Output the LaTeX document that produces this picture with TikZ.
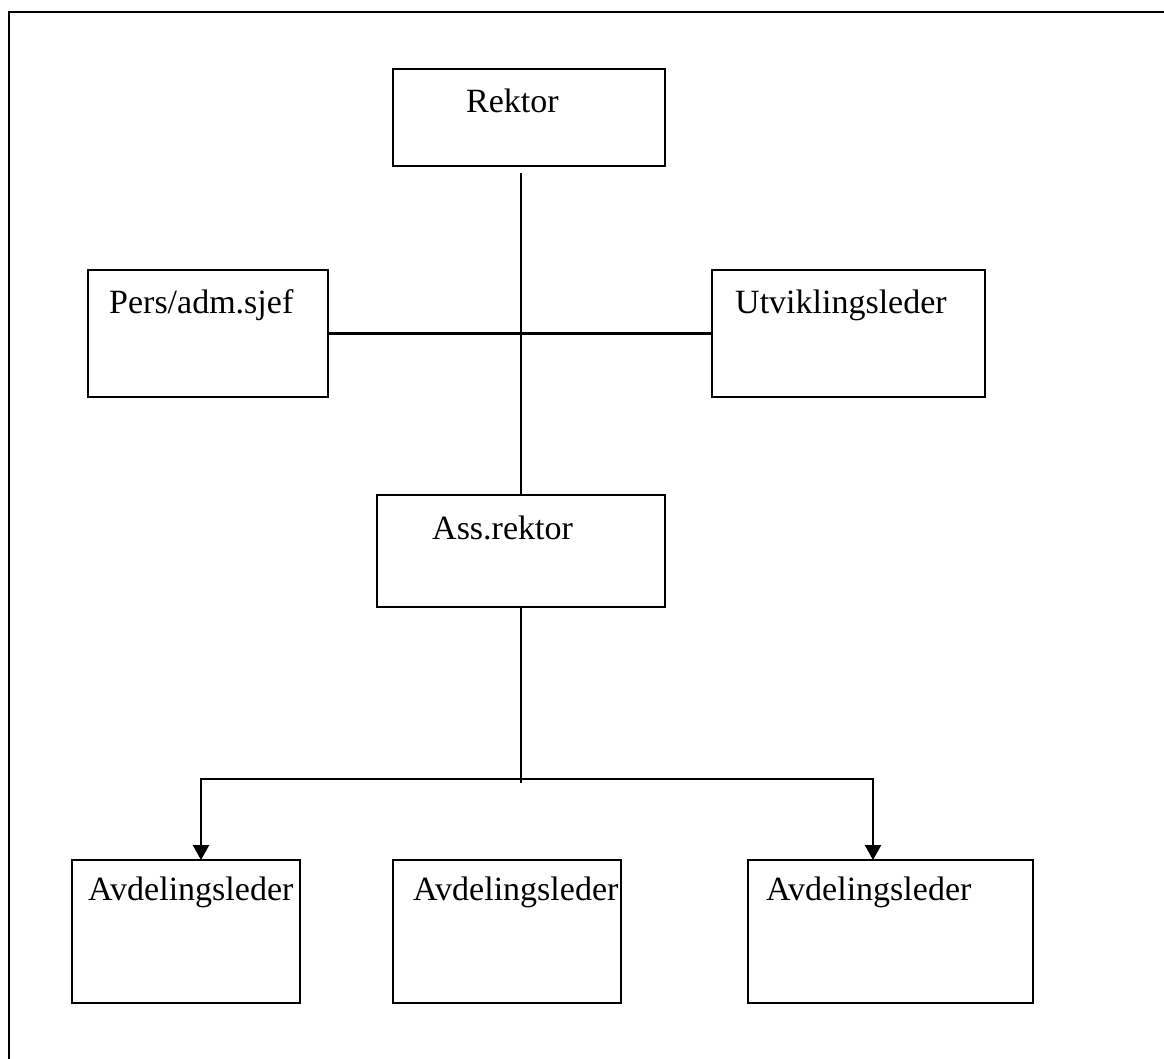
\documentclass[tikz,border=0pt]{standalone}
\usepackage{fontspec}
\setmainfont{Liberation Serif}
\usetikzlibrary{arrows.meta}

\tikzset{
	box/.style={draw, rectangle, line width=2.4pt, inner sep=0pt, outer sep=0pt, anchor=north west},
	lbl/.style={anchor=base west, inner sep=0pt, font=\fontsize{34}{40}\selectfont},
	tip/.style={{Triangle[width=16pt,length=15pt]}-{Triangle[width=16pt,length=15pt]}}
}

\begin{document}
\begin{tikzpicture}[x=1pt, y=-1pt, line width=2.4pt]
		\useasboundingbox (0,0) rectangle (1164,1059);
		\draw (9,1059) -- (9,12) -- (1164,12);

		\node (rektor)[box, minimum width=272pt, minimum height=97pt] at (393,69) {};
		\node (pers)[box, minimum width=240pt, minimum height=127pt] at (88,270) {};
		\node (utvikling)[box, minimum width=273pt, minimum height=127pt] at (712,270) {};
		\node (ass)[box, minimum width=288pt, minimum height=112pt] at (377,495) {};

		\node (avd1)[box, minimum width=228pt, minimum height=143pt] at (72,860) {};
		\node (avd2)[box, minimum width=228pt, minimum height=143pt] at (393,860) {};
		\node (avd3)[box, minimum width=285pt, minimum height=143pt] at (748,860) {};

		\node (rektorT)[lbl] at (465,113) {Rektor};
		\node (persT)[lbl] at (108,313) {Pers/adm.sjef};
		\node (utviklingT)[lbl] at (734,313) {Utviklingsleder};
		\node (assT)[lbl] at (431,539) {Ass.rektor};
		\node (avd1T)[lbl] at (87,900) {Avdelingsleder};
		\node (avd2T)[lbl] at (412,900) {Avdelingsleder};
		\node (avd3T)[lbl] at (765,900) {Avdelingsleder};

		\coordinate (top) at (521,173);
		\coordinate (fork) at (521,783);
		\coordinate (jl) at (201,779);
		\coordinate (jr) at (873,779);

		\draw (top) -- (top |- ass.north);
		\draw (pers.east) -- (utvikling.west);
		\draw (ass.south) -- (fork);
		\draw[tip, line join=miter] (jl |- avd1.north) -- (jl) -- (jr) -- (jr |- avd3.north);
	\end{tikzpicture}
\end{document}
